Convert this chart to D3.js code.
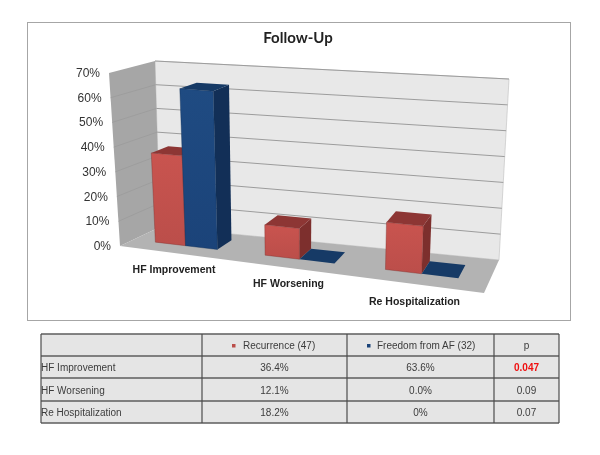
<!DOCTYPE html>
<html>
<head>
<meta charset="utf-8">
<script src="https://cdn.jsdelivr.net/npm/d3@7"></script>
<style>
  html, body { margin: 0; padding: 0; background: #fff; }
  /* the source picture is a soft jpeg */
  svg { display: block; font-family: "Liberation Sans", Arial, sans-serif; filter: blur(0.3px); }
</style>
</head>
<body>
<svg width="600" height="455"></svg>
<script>
const categories = ['HF Improvement', 'HF Worsening', 'Re Hospitalization'];
const seriesNames = ['Recurrence (47)', 'Freedom from AF (32)'];
const recurrence = [36.4, 12.1, 18.2];
const freedom = [63.6, 0, 0];
const ticks = [0, 10, 20, 30, 40, 50, 60, 70];
const recurrenceText = ['36.4%', '12.1%', '18.2%'];
const freedomText = ['63.6%', '0.0%', '0%'];
const pText = ['0.047', '0.09', '0.07'];

const svg = d3.select('svg');
const defs = svg.append('defs');

const lerp = (a, b, t) => [a[0] + (b[0] - a[0]) * t, a[1] + (b[1] - a[1]) * t];

// corners of the 3d box as excel drew it: front left, front right, back right, back left
function quad(p0, p1, p2, p3) {
  return (u, w) => lerp(lerp(p0, p1, u), lerp(p3, p2, u), w);
}
const floor = quad([120, 246], [484, 293], [499, 260], [160, 227]);
const ceil = quad([109, 73], [493, 104], [509, 79], [155, 61]);

const y = d3.scaleLinear().domain([0, 70]).range([0, 1]);
const x0 = d3.scaleBand().domain(categories).range([0, 1]).paddingInner(0.417).paddingOuter(0.242);
const x1 = d3.scaleBand().domain([0, 1]).range([0, x0.bandwidth()]);
// bars get wider to the right, the near end of the box
const warp = d3.scalePow().exponent(1.1).domain([0, 1]).range([0, 1]);
const depth = [0.34, 0.75];

function pt(t, w, v) {
  const u = warp(t);
  return lerp(floor(u, w), ceil(u, w), y(v));
}
const poly = pts => d3.line()(pts) + 'Z';

// chart frame
svg.append('rect').attr('x', 27.5).attr('y', 22.5).attr('width', 543).attr('height', 298)
  .attr('fill', '#fff').attr('stroke', '#a6a6a6');

svg.append('text').attr('x', 298).attr('y', 43).attr('text-anchor', 'middle')
  .style('font-family', 'Lato').style('font-weight', 'bold').style('font-size', '15px')
  .attr('fill', '#222').text('Follow-Up');

// walls and floor
svg.append('path').attr('fill', '#e8e8e8').attr('stroke', '#bdbdbd').attr('stroke-width', 0.6)
  .attr('d', poly([pt(0, 1, 0), pt(1, 1, 0), pt(1, 1, 70), pt(0, 1, 70)]));
svg.append('path').attr('fill', '#a6a6a6')
  .attr('d', poly([pt(0, 0, 0), pt(0, 1, 0), pt(0, 1, 70), pt(0, 0, 70)]));
svg.append('path').attr('fill', '#b3b3b3')
  .attr('d', poly([pt(0, 0, 0), pt(1, 0, 0), pt(1, 1, 0), pt(0, 1, 0)]));

// gridlines, back wall and side wall
svg.append('g').selectAll('path').data(ticks.slice(1)).join('path')
  .attr('fill', 'none').attr('stroke', '#9c9c9c').attr('stroke-width', 1)
  .attr('d', d => d3.line()([pt(0, 1, d), pt(1, 1, d)]));
svg.append('g').selectAll('path').data(ticks.slice(1, -1)).join('path')
  .attr('fill', 'none').attr('stroke', '#999').attr('stroke-width', 0.7)
  .attr('d', d => d3.line()([pt(0, 0, d), pt(0, 1, d)]));

// tick labels
svg.append('g').selectAll('text').data(ticks).join('text')
  .attr('x', d => pt(0, 0, d)[0] - 9)
  .attr('y', d => pt(0, 0, d)[1] + 4)
  .attr('text-anchor', 'end').attr('font-size', 12).attr('fill', '#333')
  .text(d => d + '%');

// bars
const colors = [
  { front: ['#c9544f', '#bb4e4a'], top: '#8d3634', side: '#7d2f2d' },
  { front: ['#1f4b82', '#1b4379'], top: '#163a66', side: '#122f57' }
];
colors.forEach((c, i) => {
  const g = defs.append('linearGradient').attr('id', 'front' + i).attr('x1', 0).attr('x2', 0).attr('y1', 0).attr('y2', 1);
  g.append('stop').attr('offset', 0).attr('stop-color', c.front[0]);
  g.append('stop').attr('offset', 1).attr('stop-color', c.front[1]);
});

function bar(cat, s, v) {
  const ua = x0(cat) + x1(s), ub = ua + x1.bandwidth();
  const [wa, wb] = depth;
  const g = svg.append('g');
  if (v > 0) {
    g.append('path').attr('fill', colors[s].side)
      .attr('d', poly([pt(ub, wa, 0), pt(ub, wb, 0), pt(ub, wb, v), pt(ub, wa, v)]));
    g.append('path').attr('fill', `url(#front${s})`).attr('stroke', colors[s].side).attr('stroke-width', 0.4)
      .attr('d', poly([pt(ua, wa, 0), pt(ub, wa, 0), pt(ub, wa, v), pt(ua, wa, v)]));
  }
  g.append('path').attr('fill', colors[s].top)
    .attr('d', poly([pt(ua, wa, v), pt(ub, wa, v), pt(ub, wb, v), pt(ua, wb, v)]));
}
categories.forEach((c, i) => {
  bar(c, 0, recurrence[i]);
  bar(c, 1, freedom[i]);
});

// category labels sit under the floor, stepping down with its front edge
const labelX = d3.scaleOrdinal().domain(categories).range([174, 288.5, 414.5]);
const labelY = d3.scaleOrdinal().domain(categories).range([273, 287, 305]);
svg.append('g').selectAll('text').data(categories).join('text')
  .attr('x', d => labelX(d)).attr('y', d => labelY(d))
  .attr('text-anchor', 'middle').attr('font-size', 10.5).attr('font-weight', 'bold').attr('fill', '#222')
  .text(d => d);

// table under the chart
const colEdges = [41, 202, 347, 494, 559];
const rowEdges = [334, 356, 378, 401, 423];
const tx = d3.scaleOrdinal().domain([1, 2, 3]).range([274.5, 420.5, 526.5]);
const rowY = i => (rowEdges[i] + rowEdges[i + 1]) / 2 + 4;

const table = svg.append('g');
table.append('rect').attr('x', colEdges[0]).attr('y', rowEdges[0])
  .attr('width', colEdges[4] - colEdges[0]).attr('height', rowEdges[4] - rowEdges[0]).attr('fill', '#e5e5e5');
table.selectAll('line.h').data(rowEdges).join('line').attr('class', 'h')
  .attr('x1', colEdges[0]).attr('x2', colEdges[4]).attr('y1', d => d).attr('y2', d => d)
  .attr('stroke', '#5c5c5c').attr('stroke-width', 1.4);
table.selectAll('line.v').data(colEdges).join('line').attr('class', 'v')
  .attr('y1', rowEdges[0]).attr('y2', rowEdges[4]).attr('x1', d => d).attr('x2', d => d)
  .attr('stroke', '#4c4c4c').attr('stroke-width', 1.2);

const tableText = table.append('g').attr('font-size', 10).attr('fill', '#3c3c3c');
tableText.append('rect').attr('x', 232).attr('y', 344).attr('width', 3.5).attr('height', 3.5).attr('fill', colors[0].front[1]);
tableText.append('text').attr('x', 243).attr('y', rowY(0)).text(seriesNames[0]);
tableText.append('rect').attr('x', 367).attr('y', 344).attr('width', 3.5).attr('height', 3.5).attr('fill', colors[1].front[1]);
tableText.append('text').attr('x', 377).attr('y', rowY(0)).text(seriesNames[1]);
tableText.append('text').attr('x', tx(3)).attr('y', rowY(0)).attr('text-anchor', 'middle').text('p');

categories.forEach((c, i) => {
  const r = rowY(i + 1);
  tableText.append('text').attr('x', 41).attr('y', r).text(c);
  tableText.append('text').attr('x', tx(1)).attr('y', r).attr('text-anchor', 'middle').text(recurrenceText[i]);
  tableText.append('text').attr('x', tx(2)).attr('y', r).attr('text-anchor', 'middle').text(freedomText[i]);
  tableText.append('text').attr('x', tx(3)).attr('y', r).attr('text-anchor', 'middle')
    .attr('fill', i === 0 ? '#f01010' : '#3c3c3c').attr('font-weight', i === 0 ? 'bold' : 'normal')
    .text(pText[i]);
});
</script>
</body>
</html>
